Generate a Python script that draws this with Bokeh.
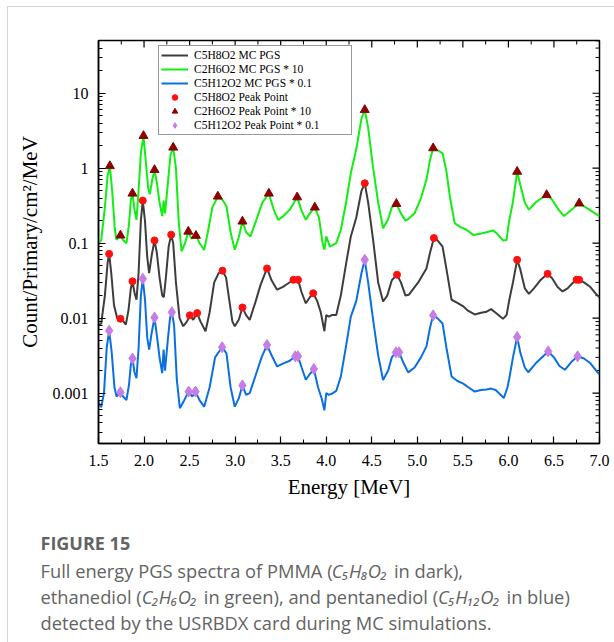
import math
from bokeh.plotting import figure
from bokeh.layouts import column
from bokeh.models import Range1d, FixedTicker, NumeralTickFormatter
from bokeh.core.properties import value
from bokeh.embed import file_html
from bokeh.resources import INLINE

# ---------------- data ----------------
dark_E = [1.50, 1.53, 1.57, 1.60, 1.617, 1.64, 1.67, 1.705, 1.741, 1.77, 1.80, 1.83, 1.855, 1.873, 1.895,
          1.917, 1.94, 1.965, 1.986, 2.01, 2.035, 2.056, 2.085, 2.115, 2.14, 2.17, 2.20, 2.217, 2.24, 2.27,
          2.298, 2.32, 2.35, 2.39, 2.43, 2.47, 2.503, 2.54, 2.583, 2.62, 2.675, 2.72, 2.77, 2.82, 2.861,
          2.90, 2.94, 2.97, 2.996, 3.04, 3.08, 3.12, 3.16, 3.22, 3.28, 3.35, 3.40, 3.461, 3.52, 3.58, 3.64,
          3.69, 3.73, 3.776, 3.82, 3.857, 3.90, 3.94, 3.98, 4.00, 4.03, 4.06, 4.11, 4.16, 4.22, 4.27, 4.33,
          4.387, 4.423, 4.46, 4.515, 4.57, 4.624, 4.67, 4.72, 4.777, 4.82, 4.87, 4.906, 4.96, 5.01, 5.06,
          5.10, 5.14, 5.182, 5.22, 5.277, 5.32, 5.376, 5.44, 5.50, 5.56, 5.63, 5.70, 5.76, 5.81, 5.86, 5.94,
          5.98, 6.01, 6.05, 6.096, 6.13, 6.18, 6.225, 6.28, 6.35, 6.43, 6.48, 6.54, 6.594, 6.65, 6.70, 6.748,
          6.777, 6.83, 6.90, 6.97, 7.00]
dark_v = [0.0080, 0.0085, 0.020, 0.055, 0.072, 0.040, 0.015, 0.010, 0.0098, 0.0092, 0.0082, 0.013, 0.025, 0.031,
          0.022, 0.0176, 0.040, 0.20, 0.37, 0.20, 0.065, 0.040, 0.070, 0.109, 0.075, 0.035, 0.020, 0.019, 0.035,
          0.090, 0.13, 0.10, 0.030, 0.010, 0.0078, 0.0090, 0.0109, 0.0095, 0.0117, 0.0090, 0.0067, 0.012, 0.030,
          0.040, 0.043, 0.035, 0.016, 0.0090, 0.0078, 0.0095, 0.0139, 0.011, 0.0095, 0.016, 0.028, 0.046, 0.032,
          0.024, 0.026, 0.029, 0.0325, 0.0325, 0.022, 0.0158, 0.019, 0.0215, 0.017, 0.012, 0.0067, 0.011, 0.0105,
          0.011, 0.011, 0.020, 0.055, 0.123, 0.22, 0.50, 0.63, 0.35, 0.11, 0.030, 0.0167, 0.020, 0.032, 0.038,
          0.030, 0.020, 0.0205, 0.025, 0.030, 0.038, 0.046, 0.075, 0.117, 0.110, 0.090, 0.045, 0.0176, 0.016,
          0.0145, 0.0125, 0.0112, 0.0118, 0.0122, 0.0132, 0.0118, 0.0098, 0.011, 0.0176, 0.030, 0.060, 0.045,
          0.025, 0.0211, 0.025, 0.032, 0.039, 0.034, 0.026, 0.0227, 0.025, 0.029, 0.0325, 0.0325, 0.030, 0.026,
          0.0205, 0.019]

green_E = [1.50, 1.53, 1.57, 1.60, 1.625, 1.65, 1.68, 1.698, 1.741, 1.77, 1.807, 1.835, 1.855, 1.873, 1.895,
           1.917, 1.94, 1.965, 1.994, 2.02, 2.045, 2.064, 2.09, 2.115, 2.14, 2.17, 2.199, 2.215, 2.23, 2.26,
           2.29, 2.32, 2.35, 2.38, 2.412, 2.45, 2.486, 2.52, 2.57, 2.61, 2.66, 2.70, 2.75, 2.81, 2.86, 2.905,
           2.95, 2.996, 3.04, 3.08, 3.12, 3.168, 3.23, 3.30, 3.37, 3.42, 3.472, 3.53, 3.60, 3.681, 3.73, 3.776,
           3.82, 3.875, 3.92, 3.96, 3.98, 4.00, 4.04, 4.11, 4.16, 4.22, 4.27, 4.33, 4.387, 4.423, 4.46, 4.515,
           4.57, 4.624, 4.68, 4.72, 4.77, 4.82, 4.87, 4.90, 4.97, 5.04, 5.10, 5.14, 5.174, 5.22, 5.277, 5.32,
           5.357, 5.41, 5.47, 5.54, 5.613, 5.70, 5.76, 5.83, 5.87, 5.94, 5.98, 6.004, 6.05, 6.096, 6.13, 6.18,
           6.225, 6.31, 6.42, 6.48, 6.55, 6.61, 6.68, 6.777, 6.85, 6.93, 7.00]
green_v = [0.10, 0.11, 0.30, 0.80, 1.07, 0.50, 0.15, 0.111, 0.127, 0.11, 0.10, 0.18, 0.38, 0.46, 0.28, 0.205,
           0.50, 1.60, 2.7, 1.2, 0.55, 0.45, 0.70, 0.95, 0.65, 0.35, 0.23, 0.37, 0.25, 0.60, 1.50, 1.89, 1.00,
           0.20, 0.078, 0.10, 0.143, 0.115, 0.126, 0.10, 0.081, 0.14, 0.30, 0.42, 0.38, 0.31, 0.14, 0.082, 0.12,
           0.195, 0.140, 0.123, 0.20, 0.35, 0.46, 0.29, 0.205, 0.23, 0.28, 0.41, 0.27, 0.205, 0.25, 0.30, 0.22,
           0.10, 0.082, 0.123, 0.09, 0.10, 0.15, 0.36, 0.86, 1.8, 4.6, 6.0, 3.5, 1.0, 0.35, 0.158, 0.21, 0.30,
           0.335, 0.25, 0.20, 0.21, 0.25, 0.40, 0.70, 1.30, 1.85, 1.75, 1.58, 0.90, 0.42, 0.185, 0.165, 0.151,
           0.129, 0.135, 0.14, 0.148, 0.136, 0.109, 0.11, 0.186, 0.36, 0.90, 0.60, 0.35, 0.28, 0.36, 0.44, 0.38,
           0.28, 0.23, 0.27, 0.34, 0.30, 0.26, 0.23]

blue_E = [1.50, 1.53, 1.56, 1.59, 1.617, 1.645, 1.675, 1.698, 1.741, 1.77, 1.807, 1.835, 1.855, 1.873, 1.895,
          1.917, 1.94, 1.965, 1.986, 2.01, 2.035, 2.056, 2.085, 2.115, 2.14, 2.17, 2.199, 2.215, 2.23, 2.26,
          2.285, 2.305, 2.33, 2.36, 2.393, 2.44, 2.49, 2.53, 2.565, 2.61, 2.66, 2.72, 2.78, 2.857, 2.905, 2.95,
          2.996, 3.04, 3.08, 3.12, 3.16, 3.23, 3.29, 3.35, 3.40, 3.461, 3.53, 3.60, 3.66, 3.69, 3.73, 3.776,
          3.82, 3.864, 3.91, 3.95, 3.98, 4.00, 4.03, 4.06, 4.11, 4.16, 4.22, 4.27, 4.33, 4.387, 4.423, 4.46,
          4.515, 4.57, 4.624, 4.68, 4.72, 4.765, 4.80, 4.85, 4.90, 4.97, 5.04, 5.10, 5.14, 5.174, 5.22, 5.277,
          5.32, 5.376, 5.44, 5.50, 5.56, 5.63, 5.70, 5.76, 5.81, 5.86, 5.95, 5.99, 6.01, 6.05, 6.096, 6.13,
          6.18, 6.218, 6.30, 6.437, 6.50, 6.56, 6.62, 6.69, 6.76, 6.83, 6.90, 6.986, 7.00]
blue_v = [0.00075, 0.00065, 0.0010, 0.0040, 0.0068, 0.0035, 0.0012, 0.00090, 0.00103, 0.00090, 0.00081, 0.0013,
          0.0024, 0.0029, 0.0019, 0.00158, 0.0040, 0.020, 0.0335, 0.018, 0.0055, 0.0038, 0.0065, 0.0102, 0.0060,
          0.0030, 0.00185, 0.0038, 0.0020, 0.0050, 0.0100, 0.012, 0.0080, 0.0015, 0.00063, 0.00080, 0.00105,
          0.00090, 0.00105, 0.00080, 0.00066, 0.0012, 0.0030, 0.0041, 0.0034, 0.0012, 0.00066, 0.00085, 0.00127,
          0.00095, 0.00100, 0.0018, 0.0030, 0.0044, 0.0032, 0.00227, 0.0025, 0.0027, 0.0031, 0.0031, 0.0022,
          0.00151, 0.0018, 0.0021, 0.0012, 0.00085, 0.00059, 0.0010, 0.00095, 0.00098, 0.00107, 0.00166, 0.0044,
          0.0105, 0.017, 0.040, 0.060, 0.030, 0.0095, 0.0032, 0.0015, 0.0020, 0.0030, 0.0035, 0.0035, 0.0025,
          0.00189, 0.0022, 0.0030, 0.0042, 0.0075, 0.0109, 0.0100, 0.0085, 0.0040, 0.00167, 0.00145, 0.00135,
          0.0012, 0.00105, 0.0011, 0.00112, 0.00115, 0.0011, 0.00086, 0.0012, 0.00158, 0.0030, 0.0056, 0.0035,
          0.0022, 0.0019, 0.0025, 0.0036, 0.0030, 0.0023, 0.00205, 0.0026, 0.0031, 0.0029, 0.0025, 0.00185, 0.0018]

dark_peak_E = [1.617, 1.741, 1.873, 1.986, 2.115, 2.298, 2.503, 2.583, 2.861, 3.08, 3.35, 3.64, 3.69, 3.857,
               4.423, 4.777, 5.182, 6.096, 6.43, 6.748, 6.777]
dark_peak_v = [0.072, 0.0098, 0.031, 0.37, 0.109, 0.13, 0.0109, 0.0117, 0.043, 0.0139, 0.046, 0.0325, 0.0325,
               0.0215, 0.63, 0.038, 0.117, 0.060, 0.039, 0.0325, 0.0325]
green_peak_E = [1.625, 1.741, 1.873, 1.994, 2.115, 2.32, 2.486, 2.57, 2.81, 3.08, 3.37, 3.681, 3.875, 4.423,
                4.77, 5.174, 6.096, 6.42, 6.777]
green_peak_v = [1.07, 0.127, 0.46, 2.7, 0.95, 1.89, 0.143, 0.126, 0.42, 0.195, 0.46, 0.41, 0.30, 6.0, 0.335,
                1.85, 0.90, 0.44, 0.34]
blue_peak_E = [1.617, 1.741, 1.873, 1.986, 2.115, 2.305, 2.49, 2.565, 2.857, 3.08, 3.35, 3.66, 3.69, 3.864,
               4.423, 4.765, 4.80, 5.174, 6.096, 6.437, 6.76]
blue_peak_v = [0.0068, 0.00103, 0.0029, 0.0335, 0.0102, 0.012, 0.00105, 0.00105, 0.0041, 0.00127, 0.0044,
               0.0031, 0.0031, 0.0021, 0.060, 0.0035, 0.0035, 0.0109, 0.0056, 0.0036, 0.0031]

series_labels = ["C5H8O2 MC PGS", "C2H6O2 MC PGS * 10", "C5H12O2 MC PGS * 0.1",
                 "C5H8O2 Peak Point", "C2H6O2 Peak Point * 10", "C5H12O2 Peak Point * 0.1"]
x_ticks = [1.5, 2.0, 2.5, 3.0, 3.5, 4.0, 4.5, 5.0, 5.5, 6.0, 6.5, 7.0]
y_ticks = [0.001, 0.01, 0.1, 1, 10]

caption_title = "FIGURE 15"
caption_plain = ["Full energy PGS spectra of PMMA (", "in dark),",
                 "ethanediol (", "in green), and pentanediol (", "in blue)",
                 "detected by the USRBDX card during MC simulations."]
caption_formula = ["C\u2085H\u2088O\u2082", "C\u2082H\u2086O\u2082", "C\u2085H\u2081\u2082O\u2082"]

# ---------------- layout constants ----------------
SERIF = "Liberation Serif"
OX, OY = 7, 6                   # card offset (left border, top border)
W = 614 - OX                    # figure width
H1 = 504                        # chart figure height (canvas y 6..510)
H2 = 642 - OY - H1              # caption figure height
FL, FR, FT = 90, 16, 33         # frame borders inside chart figure
FB = H1 - (442 - OY)
X0, X1 = 1.5, 7.0
Y0, Y1 = 2.13e-4, 50.5

p = figure(width=W, height=H1, y_axis_type="log",
           x_range=Range1d(X0, X1), y_range=Range1d(Y0, Y1),
           output_backend="svg", toolbar_location=None,
           min_border_left=FL, min_border_right=FR, min_border_top=FT, min_border_bottom=FB)
p.grid.visible = False
p.outline_line_color = "black"
p.outline_line_width = 1.5
p.background_fill_color = "white"
p.border_fill_color = "white"

x_minor = [t + 0.25 for t in x_ticks[:-1]]
y_minor = [k * 10.0 ** e for e in range(-4, 2) for k in range(2, 10) if Y0 < k * 10.0 ** e < Y1]

MAJ, MIN = 7, 4


def style_axis(ax):
    ax.axis_line_color = "black"
    ax.axis_line_width = 1.5
    ax.major_tick_in = MAJ
    ax.major_tick_out = 0
    ax.minor_tick_in = MIN
    ax.minor_tick_out = 0
    ax.major_tick_line_color = "black"
    ax.minor_tick_line_color = "black"
    ax.major_tick_line_width = 1.2
    ax.minor_tick_line_width = 1
    ax.major_label_text_font = SERIF
    ax.major_label_text_font_size = "16px"
    ax.major_label_text_color = "black"


xa = p.xaxis[0]
xa.ticker = FixedTicker(ticks=x_ticks, minor_ticks=x_minor)
xa.formatter = NumeralTickFormatter(format="0.0")
style_axis(xa)
xa.major_label_standoff = 11
xa.axis_label = "Energy [MeV]"
xa.axis_label_text_font = SERIF
xa.axis_label_text_font_size = "21px"
xa.axis_label_text_font_style = "normal"
xa.axis_label_text_color = "black"
xa.axis_label_standoff = 6

ya = p.yaxis[0]
ya.ticker = FixedTicker(ticks=y_ticks, minor_ticks=y_minor)
ya.formatter = NumeralTickFormatter(format="0.[000]")
style_axis(ya)
ya.major_label_standoff = 10
ya.axis_label = "Count/Primary/cm\u00b2/MeV"
ya.axis_label_text_font = SERIF
ya.axis_label_text_font_size = "21px"
ya.axis_label_text_font_style = "normal"
ya.axis_label_text_color = "black"
ya.axis_label_standoff = 8

# mirrored inward ticks on the top and right edges, derived from the tick lists
px_per_x = (W - FL - FR) / (X1 - X0)
px_per_dec = (H1 - FT - FB) / math.log10(Y1 / Y0)
for ticks, ln in ((x_ticks, MAJ), (x_minor, MIN)):
    p.segment(x0=ticks, x1=ticks, y0=[Y1] * len(ticks), y1=[Y1 / 10 ** (ln / px_per_dec)] * len(ticks),
              line_color="black", line_width=1.2 if ln == MAJ else 1)
for ticks, ln in ((y_ticks, MAJ), (y_minor, MIN)):
    p.segment(x0=[X1] * len(ticks), x1=[X1 - ln / px_per_x] * len(ticks), y0=ticks, y1=ticks,
              line_color="black", line_width=1.2 if ln == MAJ else 1)

# ---------------- curves ----------------
p.line(dark_E, dark_v, line_color="#3d3d3d", line_width=2, legend_label=series_labels[0])
p.line(green_E, green_v, line_color="#11ee11", line_width=2, legend_label=series_labels[1])
p.line(blue_E, blue_v, line_color="#0a6fe0", line_width=2, legend_label=series_labels[2])
p.scatter(dark_peak_E, dark_peak_v, marker="circle", size=7, color="#ff1010", legend_label=series_labels[3])
p.scatter(green_peak_E, green_peak_v, marker="triangle", size=9, color="#8b0000", legend_label=series_labels[4])
p.scatter(blue_peak_E, blue_peak_v, marker="diamond", size=11, color="#c67de6", legend_label=series_labels[5])

lg = p.legend[0]
lg.location = (157 - OX - FL, (442 - OY) - FT - (134 - OY - FT))
lg.border_line_color = "#333333"
lg.border_line_width = 1
lg.background_fill_color = "white"
lg.background_fill_alpha = 1
lg.label_text_font = SERIF
lg.label_text_font_size = "11.5px"
lg.label_text_line_height = 1.0
lg.label_text_color = "black"
lg.glyph_width = 27
lg.glyph_height = 14
lg.label_height = 14
lg.label_width = 155
lg.label_standoff = 6
lg.spacing = 0
lg.padding = 2
lg.margin = 0

# ---------------- caption figure ----------------
c = figure(width=W, height=H2, x_range=Range1d(0, W), y_range=Range1d(H2, 0),
           output_backend="svg", toolbar_location=None,
           x_axis_location=None, y_axis_location=None, min_border=0)
c.grid.visible = False
c.outline_line_color = None
c.background_fill_color = "white"
c.border_fill_color = "white"

for f in (p, c):
    if "frame_align" in f.properties():
        f.frame_align = False

CAP = "#636363"
CFONT = value("Open Sans")
S = 18.3                         # caption font size (px)
cy = lambda y: y - (OY + H1)
cx = lambda x: x - OX
# segment start positions (page px), from the caption font's advance widths
L0 = 39
f1 = L0 + 15.92 * S
d1 = f1 + 3.12 * S + 5
e2 = L0 + 5.53 * S
g2 = e2 + 3.12 * S + 5
f3 = g2 + 12.80 * S
b3 = f3 + 3.47 * S + 5

c.text(x=[cx(L0)], y=[cy(541)], text=[caption_title], text_font=CFONT, text_font_size="18px",
       text_font_style="bold", text_color=CAP, text_baseline="middle")
c.text(x=[cx(L0), cx(d1), cx(L0), cx(g2), cx(b3), cx(L0)],
       y=[cy(569), cy(569), cy(595), cy(595), cy(595), cy(621)],
       text=caption_plain, text_font=CFONT, text_font_size=f"{S}px",
       text_color=CAP, text_baseline="middle")
c.text(x=[cx(f1), cx(e2), cx(f3)], y=[cy(569), cy(595), cy(595)],
       text=caption_formula, text_font=CFONT, text_font_size=f"{S}px",
       text_font_style="italic", text_color=CAP, text_baseline="middle")

layout = column(p, c, spacing=0, margin=(OY, 0, 0, OX),
                styles={"border-left": "1.5px solid #d4d4d4", "border-top": "1.5px solid #d4d4d4"})

open("out.html", "w").write(file_html(layout, INLINE))
